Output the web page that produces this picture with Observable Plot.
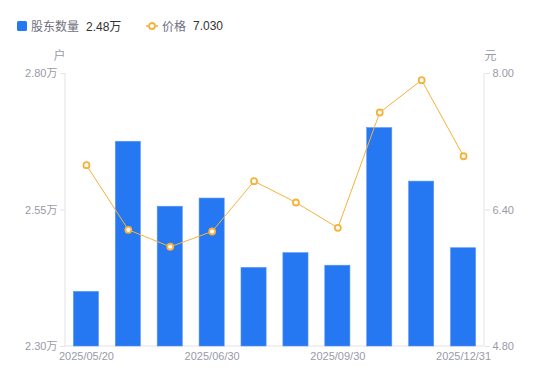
<!DOCTYPE html>
<html><head><meta charset="utf-8">
<script src="https://cdn.jsdelivr.net/npm/d3@7"></script>
<script src="https://cdn.jsdelivr.net/npm/@observablehq/plot@0.6"></script>
<style>
html,body{margin:0;padding:0;background:#fff;}
body{width:550px;height:381px;overflow:hidden;font-family:"Liberation Sans","Noto Sans CJK SC",sans-serif;}
#legend{height:45px;position:relative;font-size:12px;}
#legend .item{position:absolute;top:17px;display:flex;align-items:center;white-space:nowrap;}
#legend .lab{color:#707080;margin-left:4px;}
#legend .val{color:#333;margin-left:7px;}
</style></head>
<body>
<div id="legend">
  <div class="item" style="left:17px"><svg width="10" height="10"><rect width="10" height="10" rx="1.5" fill="#2677F2"/></svg><span class="lab">股东数量</span><span class="val">2.48万</span></div>
  <div class="item" style="left:146px"><svg width="12" height="10"><line x1="0" y1="5" x2="12" y2="5" stroke="#F7B23B" stroke-width="1.5"/><circle cx="6" cy="5" r="3" fill="#fff" stroke="#F7B23B" stroke-width="1.8"/></svg><span class="lab">价格</span><span class="val">7.030</span></div>
</div>
<div id="chart"></div>
<script>
const dates = ["2025/05/20","2025/05/31","2025/06/10","2025/06/30","2025/07/31","2025/08/31","2025/09/30","2025/10/31","2025/11/30","2025/12/31"];
const holders = [2.40, 2.675, 2.556, 2.571, 2.444, 2.471, 2.448, 2.70, 2.602, 2.48];
const prices = [6.925, 6.168, 5.969, 6.148, 6.738, 6.488, 6.191, 7.543, 7.922, 7.030];
const shownDates = ["2025/05/20","2025/06/30","2025/09/30","2025/12/31"];
const holderTicks = [2.30, 2.55, 2.80];
const priceTicks = [4.80, 6.40, 8.00];

const hMin = 2.30, hMax = 2.80, pMin = 4.80, pMax = 8.00;
const p2h = p => hMin + (p - pMin) / (pMax - pMin) * (hMax - hMin);

const data = dates.map((d, i) => ({date: d, holders: holders[i], price: prices[i], py: p2h(prices[i])}));

const gray = "#9a9aa8";
const chart = Plot.plot({
  width: 550,
  height: 336,
  marginTop: 28,
  marginBottom: 35,
  marginLeft: 65,
  marginRight: 66,
  style: {fontFamily: '"Liberation Sans","Noto Sans CJK SC",sans-serif', fontSize: "11px", color: gray},
  x: {type: "band", domain: dates, paddingInner: 0.4, paddingOuter: 0.2, round: false},
  y: {domain: [hMin, hMax]},
  marks: [
    Plot.barY(data, {x: "date", y1: () => hMin, y2: "holders", fill: "#2677F2", stroke: "#5b97f5", strokeWidth: 0.6}),
    Plot.axisY(holderTicks, {anchor: "left", tickSize: 5, tickPadding: 3, stroke: "#e3e3e8", fill: gray, fontSize: 11, label: null, tickFormat: d => d.toFixed(2) + "万"}),
    Plot.axisY(priceTicks.map(p2h), {anchor: "right", tickSize: 5, tickPadding: 3, stroke: "#e3e3e8", fill: gray, fontSize: 11, label: null, tickFormat: (d, i) => priceTicks[i].toFixed(2)}),
    Plot.axisX(shownDates, {anchor: "bottom", tickSize: 0, tickPadding: 6, fill: gray, fontSize: 11, label: null}),
    Plot.line(data, {x: "date", y: "py", stroke: "#F7B23B", strokeWidth: 1}),
    Plot.dot(data, {x: "date", y: "py", r: 3, fill: "#fff", stroke: "#F7B23B", strokeWidth: 1.8}),
    Plot.text(["户"], {frameAnchor: "top-left", dx: -12, dy: -22, fill: gray, fontSize: 12}),
    Plot.text(["元"], {frameAnchor: "top-right", dx: 12, dy: -22, fill: gray, fontSize: 12})
  ]
});
document.getElementById("chart").appendChild(chart);
const svg = d3.select(chart);
const L = 65, R = 484, T = 28, B = 301;
svg.insert("g", ":first-child").call(g => {
  g.append("line").attr("x1", L).attr("x2", L).attr("y1", T).attr("y2", B).attr("stroke", "#e3e3e8");
  g.append("line").attr("x1", R).attr("x2", R).attr("y1", T).attr("y2", B).attr("stroke", "#e3e3e8");
  g.append("line").attr("x1", L).attr("x2", R).attr("y1", B).attr("y2", B).attr("stroke", "#e3e3e8");
});
</script>
</body></html>
